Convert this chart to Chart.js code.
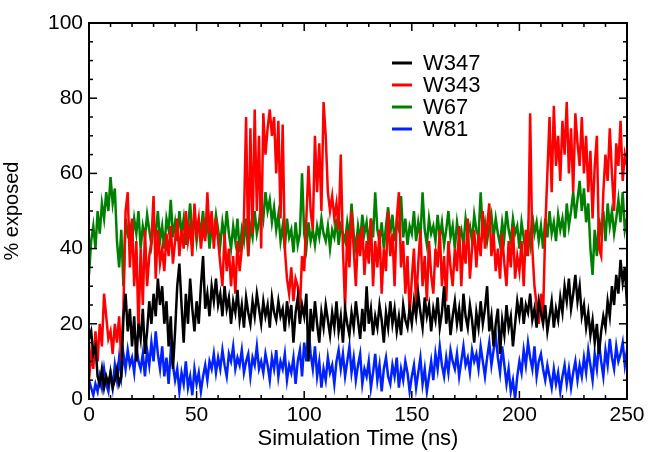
<!DOCTYPE html>
<html>
<head>
<meta charset="utf-8">
<script src="https://cdn.jsdelivr.net/npm/chart.js@4/dist/chart.umd.min.js"></script>
<style>
  html, body { margin: 0; padding: 0; background: #fff; }
  #wrap { width: 649px; height: 452px; position: relative; }
</style>
</head>
<body>
<div id="wrap"><canvas id="exposureChart"></canvas></div>
<script>
// simulation time, one sample per ns
const timeNs = Array.from({ length: 251 }, (_, i) => i)

const seriesNames = ["W347", "W343", "W67", "W81"]
const seriesColors = ["#000000", "#ff0000", "#008000", "#0022ff"]

// % exposed
const w347 = [
  16, 18, 12, 14, 6, 4, 8, 3, 6, 4,
  7, 3, 5, 8, 4, 6, 22, 28, 18, 24,
  14, 22, 10, 20, 16, 24, 12, 18, 26, 20,
  28, 22, 32, 25, 30, 20, 26, 14, 22, 8,
  18, 30, 36, 25, 15, 28, 20, 32, 24, 18,
  26, 20, 30, 38, 24, 28, 22, 30, 26, 32,
  25, 28, 22, 30, 24, 27, 20, 26, 23, 29,
  21, 25, 19, 27, 23, 20, 26, 22, 28, 24,
  20, 26, 22, 25, 19, 27, 23, 21, 26, 22,
  24, 18, 26, 21, 25, 15, 23, 27, 20, 25,
  22, 28, 10, 24, 18, 26, 20, 15, 23, 19,
  25, 21, 17, 23, 19, 26, 18, 22, 15, 24,
  20, 17, 23, 19, 26, 21, 16, 24, 18, 30,
  20, 24, 17, 22, 19, 25, 21, 15, 23, 19,
  26, 20, 24, 18, 22, 17, 25, 21, 19, 24,
  20, 26, 22, 28, 23, 19, 27, 22, 25, 18,
  24, 21, 27, 19, 23, 30, 20, 25, 17, 22,
  26, 20, 24, 18, 28, 22, 19, 25, 21, 15,
  23, 19, 26, 20, 24, 30, 18, 22, 14, 20,
  24, 12, 21, 17, 25, 19, 22, 14, 20, 26,
  22, 27, 20, 25, 23, 28, 21, 24, 19, 26,
  23, 20, 25, 18, 22, 26, 19, 24, 21, 27,
  23, 30, 26, 32, 24, 28, 33, 26, 30, 22,
  25, 19, 23, 17, 21, 15, 20, 12, 18, 22,
  19, 26, 22, 30, 25, 33, 28, 37, 31, 35,
  25
]

const w343 = [
  5, 12, 8, 18, 10, 20, 14, 28, 22, 16,
  18, 12, 20, 15, 22, 10, 24, 50, 55, 35,
  48, 30, 42, 18, 40, 25, 45, 30, 38, 42,
  54, 32, 45, 36, 40, 34, 44, 38, 46, 36,
  42, 48, 38, 45, 40, 50, 42, 46, 38, 52,
  44, 48, 40, 46, 42, 55, 44, 50, 40, 48,
  42, 36, 30, 44, 34, 40, 30, 38, 28, 42,
  34, 40, 48, 75, 38, 72, 44, 77, 50, 70,
  40, 76, 65, 72, 77, 70, 75, 60, 74, 48,
  73, 40, 32, 28, 35, 26, 32, 30, 24, 38,
  34, 48, 62, 50, 45, 70, 55, 68, 50, 79,
  70, 55, 50, 54, 48, 52, 45, 65, 40, 24,
  45, 35, 50, 40, 30, 44, 38, 46, 33, 42,
  36, 48, 30, 42, 35, 45, 28, 40, 34, 50,
  38, 44, 30, 48, 55, 35, 42, 28, 38, 22,
  32, 40, 25, 36, 45, 30, 38, 26, 42, 33,
  28, 40, 35, 45, 30, 38, 26, 42, 35, 30,
  40, 34, 46, 30, 42, 36, 48, 32, 40, 45,
  35, 44, 38, 50, 40, 46, 52, 38, 44, 34,
  40, 32, 44, 36, 30, 42, 35, 46, 32, 38,
  34, 42, 30, 45, 38, 76, 40, 30, 25, 20,
  28, 22, 45, 60, 75, 55, 78, 62, 70, 58,
  74, 65, 79, 60, 72, 55, 76, 68, 62, 75,
  60, 70, 55, 66, 48, 62, 70, 40, 38, 55,
  65, 58, 72, 60, 50, 68, 62, 74, 58, 65,
  62
]

const w67 = [
  33, 42, 46, 40, 50, 44, 52, 48, 55, 50,
  59, 52, 56, 42, 35, 45, 30, 48, 44, 46,
  42, 48, 44, 50, 40, 46, 43, 49, 45, 41,
  47, 44, 50, 42, 46, 40, 48, 45, 53, 43,
  47, 42, 50, 44, 48, 41, 46, 52, 44, 48,
  42, 47, 45, 50, 43, 48, 40, 46, 44, 49,
  45, 41, 47, 43, 50, 44, 40, 46, 42, 48,
  39, 45, 42, 48, 38, 46, 43, 50, 44, 47,
  52, 48, 55, 50, 53, 47, 51, 45, 49, 42,
  46, 40, 48, 43, 45, 39, 47, 41, 44, 60,
  44, 40, 47, 42, 45, 41, 46, 43, 48, 44,
  42, 46, 40, 45, 43, 48, 41, 46, 44, 42,
  47, 43, 52, 44, 40, 46, 42, 49, 44, 47,
  41, 48, 43, 55, 45, 42, 47, 40, 46, 51,
  44, 49, 42, 47, 45, 54, 43, 48, 41, 46,
  44, 50, 42, 47, 43, 55, 45, 41, 48, 44,
  46, 42, 49, 43, 47, 41, 45, 50, 43, 46,
  40, 47, 43, 45, 41, 48, 44, 46, 42, 49,
  45, 43, 55, 44, 47, 42, 46, 49, 43, 48,
  44, 41, 47, 43, 50, 45, 42, 48, 44, 46,
  40, 47, 43, 38, 45, 41, 49, 44, 47, 42,
  46, 40, 48, 43, 50, 44, 47, 42, 49, 45,
  48, 43, 52, 46, 50, 55, 48, 53, 58, 50,
  56, 47, 52, 40, 33, 45, 38, 48, 44, 50,
  42, 52, 46, 50, 44, 48, 53, 47, 55, 45,
  48
]

const w81 = [
  5, 3, 1, 4, 2, 6, 3, 8, 4, 2,
  7, 3, 9, 5, 11, 6, 12, 8, 13, 9,
  11, 7, 14, 10, 8, 12, 6, 13, 9, 15,
  10, 18, 12, 8, 14, 6, 11, 4, 13, 9,
  5, 8, 2, 7, 4, 10, 3, 6, 1, 8,
  4, 7, 2, 6, 9, 5, 10, 8, 12, 7,
  11, 8, 13, 9, 6, 12, 10, 14, 8, 11,
  9, 13, 7, 10, 12, 6, 11, 9, 14, 8,
  10, 7, 12, 9, 5, 11, 8, 13, 6, 10,
  8, 12, 5, 9, 7, 11, 4, 10, 13, 6,
  15, 10, 19, 12, 8, 14, 6, 10, 3, 8,
  5, 11, 7, 9, 4, 10, 13, 8, 12, 6,
  10, 14, 7, 11, 5, 9, 12, 4, 8, 6,
  10, 3, 7, 12, 5, 9, 2, 8, 11, 6,
  4, 9, 6, 11, 3, 8, 5, 10, 7, 2,
  6, 9, 3, 7, 11, 4, 8, 2, 6, 10,
  5, 12, 8, 14, 9, 6, 11, 7, 13, 10,
  8, 12, 6, 10, 14, 9, 11, 7, 13, 10,
  12, 8, 14, 10, 6, 11, 15, 9, 13, 17,
  11, 7, 14, 9, 4, 8, 2, 5, 0, 6,
  10, 7, 13, 9, 15, 11, 8, 14, 6, 10,
  12, 8, 5, 9, 6, 3, 8, 4, 7, 2,
  6, 9, 4, 8, 3, 7, 10, 5, 9, 6,
  11, 7, 13, 9, 5, 12, 8, 15, 10, 6,
  13, 9, 16, 11, 8, 14, 10, 12, 15, 9,
  13
]

const seriesValues = [w347, w343, w67, w81]

const FONT = "'Liberation Sans', Arial, Helvetica, sans-serif"

// inward ticks on all four sides + box frame
const frameTicks = {
  id: "frameTicks",
  afterDatasetsDraw(chart) {
    const { ctx, chartArea: a, scales: { x, y } } = chart
    ctx.save()
    ctx.strokeStyle = "#000"
    ctx.lineWidth = 1.5
    const line = (x1, y1, x2, y2) => { ctx.beginPath(); ctx.moveTo(x1, y1); ctx.lineTo(x2, y2); ctx.stroke() }
    for (let v = x.min; v <= x.max; v += 10) {
      const px = x.getPixelForValue(v)
      const len = v % 50 === 0 ? 8 : 4
      line(px, a.bottom, px, a.bottom - len)
      line(px, a.top, px, a.top + len)
    }
    for (let v = y.min; v <= y.max; v += 5) {
      const py = y.getPixelForValue(v)
      const len = v % 20 === 0 ? 8 : 4
      line(a.left, py, a.left + len, py)
      line(a.right, py, a.right - len, py)
    }
    ctx.lineWidth = 2
    ctx.strokeRect(a.left, a.top, a.right - a.left, a.bottom - a.top)
    ctx.restore()
  }
}

// legend inside the plot, like the original
const innerLegend = {
  id: "innerLegend",
  afterDraw(chart) {
    const { ctx, chartArea: a } = chart
    ctx.save()
    ctx.font = "22px " + FONT
    ctx.textBaseline = "middle"
    chart.data.datasets.forEach((ds, i) => {
      const yy = a.top + 40 + i * 22
      ctx.strokeStyle = ds.borderColor
      ctx.lineWidth = 3
      ctx.beginPath()
      ctx.moveTo(a.left + 303, yy)
      ctx.lineTo(a.left + 323, yy)
      ctx.stroke()
      ctx.fillStyle = "#000"
      ctx.fillText(ds.label, a.left + 334, yy + 1)
    })
    ctx.restore()
  }
}

new Chart(document.getElementById("exposureChart"), {
  type: "line",
  data: {
    datasets: seriesNames.map((name, i) => ({
      label: name,
      data: seriesValues[i].map((v, k) => ({ x: timeNs[k], y: v })),
      borderColor: seriesColors[i],
      backgroundColor: seriesColors[i],
      borderWidth: 2.5,
      pointRadius: 0,
      tension: 0
    }))
  },
  options: {
    responsive: true,
    maintainAspectRatio: false,
    animation: false,
    layout: { padding: { top: 23, right: 22, left: 0, bottom: 0 } },
    plugins: {
      legend: { display: false },
      tooltip: { enabled: false }
    },
    scales: {
      x: {
        type: "linear",
        min: 0,
        max: 250,
        afterFit: s => { s.height = 53 },
        grid: { display: false, drawTicks: false },
        border: { display: false },
        ticks: { stepSize: 50, padding: 4, color: "#000", font: { family: FONT, size: 21 }, maxRotation: 0 },
        title: { display: true, text: "Simulation Time (ns)", color: "#000", font: { family: FONT, size: 22 }, padding: { top: 0, bottom: 0 } }
      },
      y: {
        min: 0,
        max: 100,
        afterFit: s => { s.width = 89 },
        grid: { display: false, drawTicks: false },
        border: { display: false },
        ticks: { stepSize: 20, padding: 6, color: "#000", font: { family: FONT, size: 21 } },
        title: { display: true, text: "% exposed", color: "#000", font: { family: FONT, size: 20 }, padding: { top: 0, bottom: 12 } }
      }
    }
  },
  plugins: [frameTicks, innerLegend]
})
</script>
</body>
</html>
